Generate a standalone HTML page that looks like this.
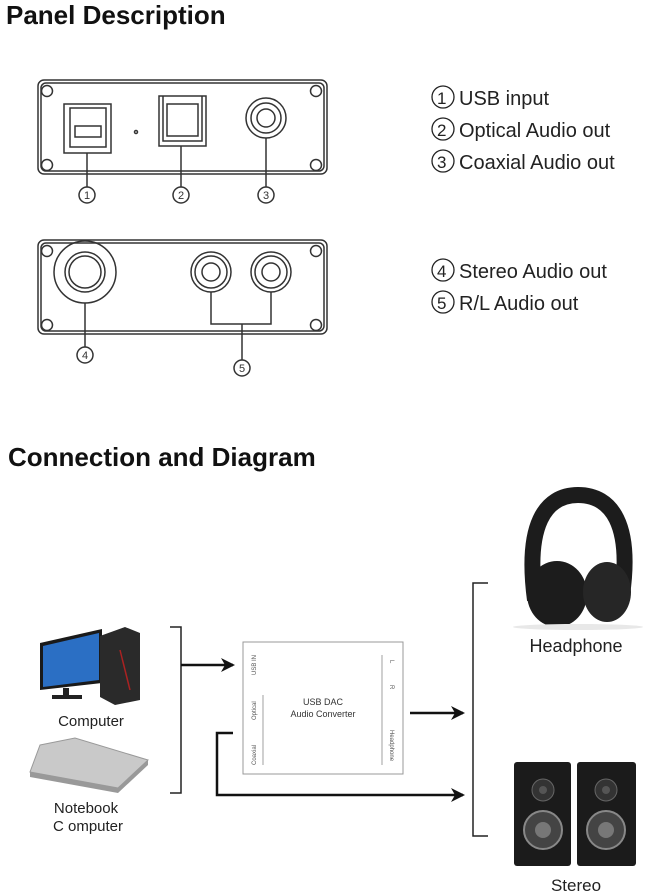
<!DOCTYPE html>
<html><head><meta charset="utf-8"><style>
html,body{margin:0;padding:0;background:#fff;}
svg{display:block;}
text{font-family:"Liberation Sans",sans-serif;}
</style></head><body>
<svg width="658" height="893" viewBox="0 0 658 893" xmlns="http://www.w3.org/2000/svg">
<defs>
<marker id="ah" markerWidth="14" markerHeight="14" refX="12" refY="7" orient="auto" markerUnits="userSpaceOnUse">
<path d="M0,0 L14,7 L0,14 L4,7 Z" fill="#111"/></marker>
</defs>
<text x="6" y="24" font-size="26" font-weight="bold" fill="#111">Panel Description</text>
<!-- Panel 1 -->
<g fill="none" stroke="#333" stroke-width="1.5">
<rect x="38" y="80" width="289" height="94" rx="6"/>
<rect x="41" y="83" width="283" height="88" rx="5"/>
<circle cx="47" cy="91" r="5.5"/><circle cx="47" cy="165" r="5.5"/>
<circle cx="316" cy="91" r="5.5"/><circle cx="316" cy="165" r="5.5"/>
<rect x="64" y="104" width="47" height="49"/>
<path d="M70,108 L106,108 L106,147 L70,147 L70,120 Z"/>
<rect x="75" y="126" width="26" height="11"/>
<circle cx="136" cy="132" r="1.5"/>
<rect x="159" y="96" width="47" height="50"/>
<path d="M163,96 V141 H202 V96 M167,104 H198 V136 H167 Z"/>
<circle cx="266" cy="118" r="20"/><circle cx="266" cy="118" r="15"/><circle cx="266" cy="118" r="9"/>
<line x1="87" y1="153" x2="87" y2="187"/><line x1="181" y1="146" x2="181" y2="187"/><line x1="266" y1="138" x2="266" y2="187"/>
<circle cx="87" cy="195" r="8"/><circle cx="181" cy="195" r="8"/><circle cx="266" cy="195" r="8"/>
<!-- Panel 2 -->
<rect x="38" y="240" width="289" height="94" rx="6"/>
<rect x="41" y="243" width="283" height="88" rx="5"/>
<circle cx="47" cy="251" r="5.5"/><circle cx="47" cy="325" r="5.5"/>
<circle cx="316" cy="251" r="5.5"/><circle cx="316" cy="325" r="5.5"/>
<circle cx="85" cy="272" r="31"/><circle cx="85" cy="272" r="20"/><circle cx="85" cy="272" r="16"/>
<circle cx="211" cy="272" r="20"/><circle cx="211" cy="272" r="16"/><circle cx="211" cy="272" r="9"/>
<circle cx="271" cy="272" r="20"/><circle cx="271" cy="272" r="16"/><circle cx="271" cy="272" r="9"/>
<line x1="85" y1="303" x2="85" y2="347"/>
<path d="M211,292 V324 H271 V292 M242,324 V360"/>
<circle cx="85" cy="355" r="8"/><circle cx="242" cy="368" r="8"/>
</g>
<g font-size="11" fill="#333" text-anchor="middle">
<text x="87" y="199">1</text><text x="181" y="199">2</text><text x="266" y="199">3</text>
<text x="85" y="359">4</text><text x="242" y="372">5</text>
</g>
<g fill="none" stroke="#222" stroke-width="1.3">
<circle cx="443" cy="97" r="11"/><circle cx="443" cy="129" r="11"/><circle cx="443" cy="161" r="11"/>
<circle cx="443" cy="270" r="11"/><circle cx="443" cy="302" r="11"/>
</g>
<g font-size="20" fill="#222">
<text x="437" y="104" font-size="17">1</text><text x="437" y="136" font-size="17">2</text><text x="437" y="168" font-size="17">3</text>
<text x="437" y="277" font-size="17">4</text><text x="437" y="309" font-size="17">5</text>
<text x="459" y="105">USB input</text>
<text x="459" y="137">Optical Audio out</text>
<text x="459" y="169">Coaxial Audio out</text>
<text x="459" y="278">Stereo Audio out</text>
<text x="459" y="310">R/L Audio out</text>
</g>
<text x="8" y="466" font-size="26" font-weight="bold" fill="#111">Connection and Diagram</text>
<!-- connectors -->
<g fill="none" stroke="#222" stroke-width="1.5">
<path d="M170,627 H181 V793 H170"/>
<path d="M488,583 H473 V836 H488"/>
</g>
<g fill="none" stroke="#111" stroke-width="2.5">
<line x1="181" y1="665" x2="233" y2="665" marker-end="url(#ah)"/>
<line x1="410" y1="713" x2="463" y2="713" marker-end="url(#ah)"/>
<path d="M233,733 H217 V795 H463" marker-end="url(#ah)"/>
</g>
<!-- DAC box -->
<rect x="243" y="642" width="160" height="132" fill="#fff" stroke="#999" stroke-width="1"/>
<text x="323" y="705" font-size="9" text-anchor="middle" fill="#333">USB DAC</text>
<text x="323" y="717" font-size="9" text-anchor="middle" fill="#333">Audio Converter</text>
<g font-size="6" fill="#555">
<text transform="translate(256,675) rotate(-90)">USB IN</text>
<text transform="translate(256,720) rotate(-90)">Optical</text>
<text transform="translate(256,765) rotate(-90)">Coaxial</text>
<text transform="translate(390,660) rotate(90)">L</text>
<text transform="translate(390,685) rotate(90)">R</text>
<text transform="translate(390,730) rotate(90)">Headphone</text>
</g>
<g stroke="#777" stroke-width="0.7"><line x1="263" y1="695" x2="263" y2="765"/><line x1="382" y1="655" x2="382" y2="765"/></g>
<!-- computer -->
<polygon points="40,643 102,629 102,683 40,690" fill="#1a1a1a"/>
<polygon points="43,646 99,633 99,680 43,687" fill="#2b6fc4"/>
<rect x="63" y="688" width="6" height="8" fill="#222"/><rect x="52" y="695" width="30" height="4" fill="#222"/>
<polygon points="100,636 125,627 140,633 140,700 115,705 100,697" fill="#2a2a2a"/>
<line x1="120" y1="650" x2="130" y2="690" stroke="#a22" stroke-width="1.5"/>
<text x="91" y="726" font-size="15" text-anchor="middle" fill="#222">Computer</text>
<!-- laptop -->
<polygon points="40,745 75,738 148,760 118,788 30,772" fill="#c9c9c9" stroke="#999"/>
<polygon points="30,772 118,788 148,760 148,765 118,793 30,777" fill="#999"/>
<text x="86" y="813" font-size="15" text-anchor="middle" fill="#222">Notebook</text>
<text x="88" y="831" font-size="15" text-anchor="middle" fill="#222">C omputer</text>
<!-- headphone -->
<path d="M535,600 C525,525 545,495 578,495 C612,495 632,525 622,595" fill="none" stroke="#1c1c1c" stroke-width="16"/>
<ellipse cx="557" cy="594" rx="30" ry="33" fill="#1c1c1c"/>
<ellipse cx="607" cy="592" rx="24" ry="30" fill="#262626"/>
<ellipse cx="578" cy="627" rx="65" ry="3" fill="#e8e8e8"/>
<text x="576" y="652" font-size="18" text-anchor="middle" fill="#222">Headphone</text>
<!-- speakers -->
<g>
<rect x="514" y="762" width="57" height="104" rx="3" fill="#1b1b1b"/>
<rect x="577" y="762" width="59" height="104" rx="3" fill="#1b1b1b"/>
<circle cx="543" cy="790" r="11" fill="#333" stroke="#666"/><circle cx="543" cy="790" r="4" fill="#555"/>
<circle cx="606" cy="790" r="11" fill="#333" stroke="#666"/><circle cx="606" cy="790" r="4" fill="#555"/>
<circle cx="543" cy="830" r="19" fill="#444" stroke="#888" stroke-width="2"/><circle cx="543" cy="830" r="8" fill="#777"/>
<circle cx="606" cy="830" r="19" fill="#444" stroke="#888" stroke-width="2"/><circle cx="606" cy="830" r="8" fill="#777"/>
</g>
<text x="576" y="891" font-size="17" text-anchor="middle" fill="#222">Stereo</text>
</svg>
</body></html>
